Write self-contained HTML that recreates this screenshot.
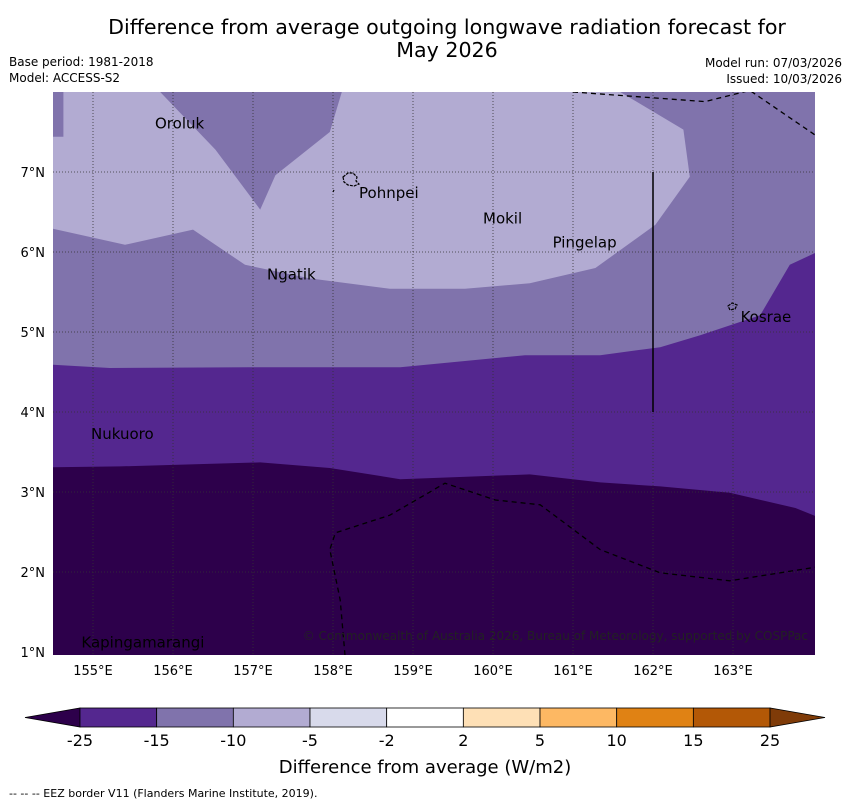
<!DOCTYPE html>
<html><head><meta charset="utf-8"><style>
body{margin:0;background:#fff;width:850px;height:804px;overflow:hidden;font-family:"Liberation Sans","DejaVu Sans",sans-serif}
svg text{font-family:"DejaVu Sans","Liberation Sans",sans-serif}
</style></head><body>
<svg id="c" width="850" height="804" xmlns="http://www.w3.org/2000/svg">
<text x="447" y="34" font-size="20.6" text-anchor="middle">Difference from average outgoing longwave radiation forecast for</text>
<text x="447" y="57" font-size="20.6" text-anchor="middle">May 2026</text>
<text x="9" y="66" font-size="12">Base period: 1981-2018</text>
<text x="9" y="82" font-size="12">Model: ACCESS-S2</text>
<text x="842" y="67" font-size="12" text-anchor="end">Model run: 07/03/2026</text>
<text x="842" y="83" font-size="12" text-anchor="end">Issued: 10/03/2026</text>
<g id="map"></g>
<g id="cb"></g>
<text x="425" y="773" font-size="18" text-anchor="middle">Difference from average (W/m2)</text>
<text x="9" y="797" font-size="11">--  --  -- EEZ border V11 (Flanders Marine Institute, 2019).</text>
</svg>
<script>
const lonTicks=[155,156,157,158,159,160,161,162,163];
const latTicks=[1,2,3,4,5,6,7];
const cbLevels=["-25","-15","-10","-5","-2","2","5","10","15","25"];
const cbColors=["#54278f","#8073ac","#b2abd2","#d8daeb","#ffffff","#fee0b6","#fdb863","#e08214","#b35806"];
const places=[["Oroluk",155.75,7.62],["Pohnpei",158.3,6.75],["Mokil",159.85,6.43],["Pingelap",160.72,6.13],["Ngatik",157.15,5.73],["Kosrae",163.07,5.2],["Nukuoro",154.95,3.74],["Kapingamarangi",154.83,1.13]];
const darkTop=[[154.5,3.31],[155.34,3.32],[157.09,3.37],[157.96,3.3],[158.84,3.16],[160.46,3.22],[161.34,3.12],[162.09,3.07],[162.96,2.99],[163.78,2.8],[164.03,2.7]];
const midTop=[[154.5,4.59],[155.21,4.55],[156.96,4.56],[158.84,4.56],[160.4,4.71],[161.34,4.71],[162.09,4.81],[162.59,4.96],[163.34,5.21],[163.71,5.84],[164.03,5.99]];
const lightPoly=[[154.63,8],[155.84,8],[156.53,7.28],[157.09,6.53],[157.28,6.96],[157.96,7.5],[158.11,8],[161.59,8],[162.38,7.53],[162.46,6.94],[162.03,6.34],[161.28,5.8],[160.46,5.61],[159.65,5.54],[158.71,5.54],[157.71,5.67],[156.9,5.84],[156.25,6.28],[155.4,6.09],[154.5,6.29],[154.5,7.44],[154.63,7.44]];
const eez1=[[161.0,8],[162.65,7.88],[163.21,8.02],[164.03,7.46]];
const eez2=[[158.15,0.96],[158.09,1.65],[157.96,2.28],[158.03,2.49],[158.71,2.71],[159.4,3.11],[160.03,2.9],[160.59,2.84],[161.34,2.28],[162.09,1.99],[162.96,1.89],[164.03,2.06]];
const X=l=>53+(l-154.5)*80, Y=t=>92+(8-t)*80;
const ns="http://www.w3.org/2000/svg";
function mk(tag,attrs,parent){const e=document.createElementNS(ns,tag);for(const k in attrs)e.setAttribute(k,attrs[k]);parent.appendChild(e);return e;}
const map=document.getElementById('map');
const cp=mk('clipPath',{id:'clip'},map);mk('rect',{x:53,y:92,width:762,height:563},cp);
const g=mk('g',{'clip-path':'url(#clip)'},map);
const pts=a=>a.map(p=>X(p[0]).toFixed(1)+','+Y(p[1]).toFixed(1)).join(' ');
let r=mk('rect',{x:53,y:92,width:762,height:563,fill:'#8073ac'},g);


let p=mk('polygon',{points:pts(lightPoly),fill:'#b2abd2'},g);


p=mk('polygon',{points:pts(midTop)+' 815,655 53,655',fill:'#54278f'},g);


p=mk('polygon',{points:pts(darkTop)+' 815,655 53,655',fill:'#2d004b'},g);


lonTicks.forEach(l=>{const x=X(l);
 let ln=mk('line',{x1:x,y1:92,x2:x,y2:655,stroke:'#333','stroke-width':0.8,'stroke-dasharray':'1,2'},g);
 
 
 let t=mk('text',{x:x,y:675,'font-size':13,'text-anchor':'middle'},map);t.textContent=l+'°E';
 
 });
latTicks.forEach(l=>{const y=Y(l);
 if(l>1){let ln=mk('line',{x1:53,y1:y,x2:815,y2:y,stroke:'#333','stroke-width':0.8,'stroke-dasharray':'1,2'},g);
 
 }
 let t=mk('text',{x:45,y:y+5,'font-size':13,'text-anchor':'end'},map);t.textContent=l+'°N';
 
 });
[eez1,eez2].forEach(a=>{let e=mk('polyline',{points:pts(a),fill:'none',stroke:'#000','stroke-width':1.3,'stroke-dasharray':'5,4'},g);
 
 });
let vl=mk('line',{x1:X(162),y1:Y(7),x2:X(162),y2:Y(4),stroke:'#000','stroke-width':1.5},g);


let isl=mk('path',{d:'M343,177 l5,-4 5,0 4,4 -1,4 3,3 -5,2 -6,-1 -4,-3z M334,190 l-1,2 M728,306 l4,-3 5,2 -2,4 -5,1z',fill:'none',stroke:'#000','stroke-width':1.2,'stroke-dasharray':'3,1'},g);


places.forEach(pl=>{let t=mk('text',{x:X(pl[1])+2,y:Y(pl[2])+6,'font-size':15},g);t.textContent=pl[0];
 
 });
let cr=mk('text',{x:808,y:640,'font-size':12,'text-anchor':'end',fill:'#222'},g);cr.textContent='© Commonwealth of Australia 2026, Bureau of Meteorology, supported by COSPPac';


const cb=document.getElementById('cb');const w=76.67,x0=80,y0=708,h=19;
let tl=mk('polygon',{points:`${x0},${y0} ${x0},${y0+h} 25,${y0+h/2}`,fill:'#2d004b',stroke:'#000','stroke-width':0.8},cb);


cbColors.forEach((c,i)=>{let b=mk('rect',{x:x0+i*w,y:y0,width:w,height:h,fill:c,stroke:'#000','stroke-width':0.8},cb);
 
 });
const xe=x0+cbColors.length*w;
let tr=mk('polygon',{points:`${xe},${y0} ${xe},${y0+h} 825,${y0+h/2}`,fill:'#7f3b08',stroke:'#000','stroke-width':0.8},cb);


cbLevels.forEach((s,i)=>{let t=mk('text',{x:x0+i*w,y:746,'font-size':16,'text-anchor':'middle'},cb);t.textContent=s;
 
 });
</script>
</body></html>
